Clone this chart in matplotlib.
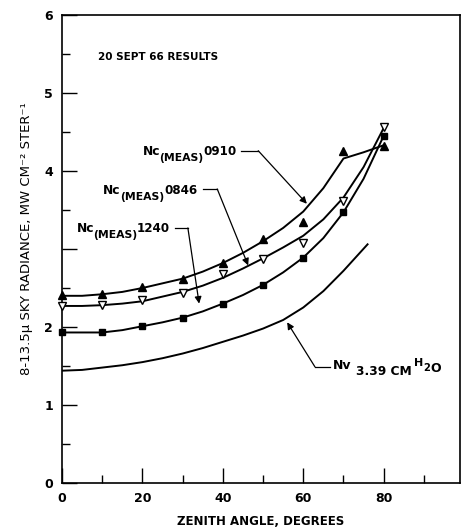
import matplotlib.pyplot as plt
from matplotlib.transforms import IdentityTransform
import numpy as np

plt.rcParams['font.family'] = 'DejaVu Sans'

# measured points, 20 Sept 66 (zenith angle in degrees)
angles = [0, 10, 20, 30, 40, 50, 60, 70, 80]
meas_0910 = [2.41, 2.42, 2.51, 2.61, 2.82, 3.13, 3.35, 4.26, 4.32]
meas_0846 = [2.27, 2.28, 2.34, 2.43, 2.68, 2.87, 3.08, 3.61, 4.56]
meas_1240 = [1.93, 1.93, 2.01, 2.12, 2.30, 2.54, 2.89, 3.48, 4.45]

# hand-drawn curves through the measurements
curve_x = [0, 5, 10, 15, 20, 25, 30, 35, 40, 45, 50, 55, 60, 65, 70, 75, 80]
curve_0910 = [2.40, 2.40, 2.42, 2.45, 2.50, 2.56, 2.62, 2.71, 2.82, 2.95,
              3.10, 3.27, 3.48, 3.78, 4.16, 4.24, 4.33]
curve_0846 = [2.27, 2.27, 2.28, 2.30, 2.33, 2.39, 2.45, 2.53, 2.63, 2.75,
              2.88, 3.02, 3.17, 3.38, 3.66, 4.05, 4.55]
curve_1240 = [1.93, 1.93, 1.93, 1.96, 2.01, 2.06, 2.12, 2.20, 2.30, 2.41,
              2.54, 2.70, 2.89, 3.14, 3.47, 3.90, 4.45]

# computed radiance for 3.39 cm precipitable water
nv_x = [0, 5, 10, 15, 20, 25, 30, 35, 40, 45, 50, 55, 60, 65, 70, 76]
nv_339 = [1.44, 1.45, 1.48, 1.51, 1.55, 1.60, 1.66, 1.73, 1.81, 1.89,
          1.98, 2.09, 2.25, 2.46, 2.72, 3.06]

fig = plt.figure(figsize=(4.63, 5.28), dpi=100)
ax = fig.add_axes([0.134, 0.0852, 0.8596, 0.8864])

lw = 1.4
ax.plot(curve_x, curve_0910, color='black', lw=lw)
ax.plot(curve_x, curve_0846, color='black', lw=lw)
ax.plot(curve_x, curve_1240, color='black', lw=lw)
ax.plot(nv_x, nv_339, color='black', lw=lw)

ax.plot(angles, meas_0910, linestyle='none', marker='^', ms=5.5,
        mfc='black', mec='black', clip_on=False, zorder=3)
ax.plot(angles, meas_0846, linestyle='none', marker='v', ms=6,
        mfc='white', mec='black', mew=1.0, clip_on=False, zorder=3)
ax.plot(angles, meas_1240, linestyle='none', marker='s', ms=5,
        mfc='black', mec='black', clip_on=False, zorder=3)

ax.set_xlim(0, 99)
ax.set_ylim(0, 6)
ax.set_xticks([0, 20, 40, 60, 80])
ax.set_xticks([10, 30, 50, 70, 90], minor=True)
ax.set_yticks([0, 1, 2, 3, 4, 5, 6])
ax.set_yticklabels(['0', '1', '2', '', '4', '5', '6'])
ax.set_yticks(np.arange(0.5, 6, 1.0), minor=True)
ax.tick_params(which='both', direction='in', top=False, right=False,
               width=1.0, labelsize=9)
ax.tick_params(which='major', length=11, pad=6.5)
ax.tick_params(which='minor', length=5.5)
for lab in ax.get_xticklabels() + ax.get_yticklabels():
    lab.set_fontweight('bold')
for sp in ax.spines.values():
    sp.set_linewidth(1.2)

ax.set_xlabel('ZENITH ANGLE, DEGREES', fontsize=8.5, fontweight='bold',
              labelpad=7)
ax.set_ylabel('8-13.5µ SKY RADIANCE, MW CM⁻² STER⁻¹', fontsize=9.5)
ax.yaxis.set_label_coords(-0.072, 0.523)

ax.text(9.0, 5.46, '20 SEPT 66 RESULTS', fontsize=7.5, fontweight='bold',
        va='center', ha='left')

renderer = fig.canvas.get_renderer()


def chain_label(x, y, pieces, align='left'):
    """Lay out text pieces side by side from a data anchor; each piece is
    (text, fontsize, baseline shift in pixels, gap before in pixels)."""
    x0, y0 = ax.transData.transform((x, y))
    parts = []
    total = 0.0
    for s, size, dy, gap in pieces:
        t = ax.text(0, 0, s, fontsize=size, fontweight='bold',
                    transform=IdentityTransform(), ha='left', va='baseline')
        w = t.get_window_extent(renderer).width
        parts.append((t, dy, gap, w))
        total += gap + w
    if align == 'right':
        x0 -= total
    cx = x0
    for t, dy, gap, w in parts:
        cx += gap
        t.set_position((cx, y0 + dy))
        cx += w


# curve labels with leaders: (tag, text end, baseline, dash start, elbow, arrow tip)
leaders = [
    ('0910', 43.5, 4.21, 44.5, (48.8, 4.26), (60.9, 3.58)),
    ('0846', 33.6, 3.71, 35.1, (38.6, 3.77), (46.3, 2.79)),
    ('1240', 26.9, 3.22, 28.1, (31.3, 3.27), (34.1, 2.30)),
]
for tag, tx, ty, dx, elbow, tip in leaders:
    chain_label(tx, ty, [('Nc', 8.8, 0, 0), ('(MEAS)', 7.8, -6, -1),
                         (tag, 8.6, 0, 0)], align='right')
    ax.plot([dx, elbow[0]], [elbow[1], elbow[1]], color='black', lw=0.9)
    ax.annotate('', xy=tip, xytext=elbow,
                arrowprops=dict(arrowstyle='-|>', color='black', lw=0.9,
                                mutation_scale=10, shrinkA=0, shrinkB=0))

chain_label(67.4, 1.46, [('Nv', 9, 0, 0), ('3.39 CM', 8.8, -6, 4),
                         ('H', 8, 3, 3), ('2', 7.2, -2, 0),
                         ('O', 9, -3, 0)])
ax.plot([62.9, 66.7], [1.49, 1.49], color='black', lw=0.9)
ax.annotate('', xy=(56.0, 2.06), xytext=(62.9, 1.49),
            arrowprops=dict(arrowstyle='-|>', color='black', lw=0.9,
                            mutation_scale=10, shrinkA=0, shrinkB=0))

fig.savefig('out.png', dpi=100)
